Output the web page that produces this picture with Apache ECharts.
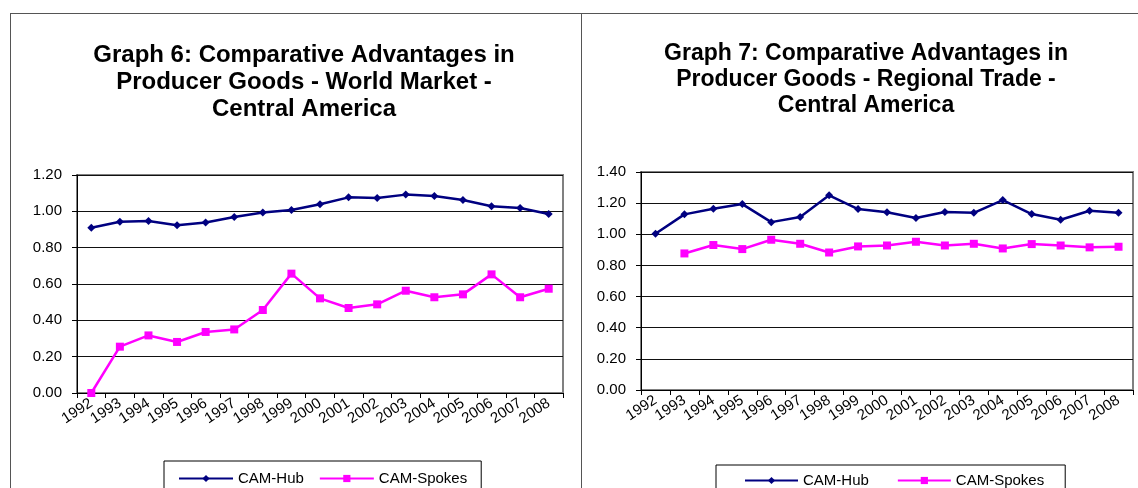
<!DOCTYPE html>
<html>
<head>
<meta charset="utf-8">
<script src="https://cdn.jsdelivr.net/npm/echarts@6/dist/echarts.min.js"></script>
<style>
  html, body { margin: 0; padding: 0; background: #fff; }
  #frame { position: absolute; left: 10px; top: 13px; width: 1300px; height: 600px; border-top: 1px solid #555; border-left: 1px solid #555; }
  #divider { position: absolute; left: 581px; top: 13px; width: 0; height: 600px; border-left: 1px solid #555; }
  #main { position: absolute; left: 0; top: 0; width: 1138px; height: 488px; }
</style>
</head>
<body>
<div id="frame"></div>
<div id="divider"></div>
<div id="main"></div>
<script>
const years = ['1992','1993','1994','1995','1996','1997','1998','1999','2000','2001','2002','2003','2004','2005','2006','2007','2008'];
const seriesNames = ['CAM-Hub', 'CAM-Spokes'];
const title6 = 'Graph 6: Comparative Advantages in\nProducer Goods - World Market -\nCentral America';
const title7 = 'Graph 7: Comparative Advantages in\nProducer Goods - Regional Trade -\nCentral America';
const worldHub = [0.91, 0.943, 0.947, 0.923, 0.938, 0.969, 0.994, 1.007, 1.039, 1.077, 1.073, 1.092, 1.084, 1.062, 1.028, 1.018, 0.985];
const worldSpokes = [0.0, 0.255, 0.317, 0.281, 0.336, 0.350, 0.457, 0.657, 0.521, 0.468, 0.488, 0.563, 0.527, 0.543, 0.653, 0.527, 0.574];
const regionalHub = [1.003, 1.128, 1.164, 1.194, 1.078, 1.111, 1.25, 1.162, 1.141, 1.104, 1.143, 1.138, 1.22, 1.13, 1.093, 1.151, 1.138];
const regionalSpokes = [null, 0.877, 0.931, 0.905, 0.965, 0.939, 0.883, 0.922, 0.928, 0.952, 0.928, 0.939, 0.909, 0.937, 0.928, 0.916, 0.920];
const worldMax = 1.2;
const regionalMax = 1.4;
const yStep = 0.2;

const FONT = 'Arial, "Liberation Sans", sans-serif';
const hubColor = '#000080';
const spokesColor = '#FF00FF';

const chart = echarts.init(document.getElementById('main'), null, { renderer: 'canvas' });

function xAxis(gi) {
  return {
    type: 'category', gridIndex: gi, data: years, boundaryGap: true,
    axisLine: { lineStyle: { color: '#000', width: 1 } },
    axisTick: { show: true, interval: 0, length: 5, lineStyle: { color: '#000' } },
    axisLabel: { interval: 0, rotate: 33, fontFamily: FONT, fontSize: 15, color: '#000', margin: 9 },
    splitLine: { show: false }
  };
}
function yAxis(gi, max) {
  return {
    type: 'value', gridIndex: gi, min: 0, max: max, interval: yStep,
    axisLine: { show: true, lineStyle: { color: '#000', width: 1 } },
    axisTick: { show: true, length: 5, lineStyle: { color: '#000' } },
    axisLabel: { fontFamily: FONT, fontSize: 15, color: '#000', margin: 15, formatter: v => v.toFixed(2) },
    splitLine: { show: true, lineStyle: { color: '#111', width: 1 } }
  };
}
function line(name, gi, data, color, symbol, size) {
  return {
    name: name, type: 'line', xAxisIndex: gi, yAxisIndex: gi, data: data,
    color: color, symbol: symbol, symbolSize: size, showSymbol: true,
    lineStyle: { color: color, width: 2.5 }, itemStyle: { color: color },
    connectNulls: false, animation: false
  };
}

chart.setOption({
  animation: false,
  backgroundColor: 'transparent',
  title: [
    { text: title6, left: 299, top: 37, textAlign: 'center',
      textStyle: { fontFamily: FONT, fontSize: 24, fontWeight: 'bold', color: '#000', lineHeight: 27 } },
    { text: title7, left: 861, top: 36, textAlign: 'center',
      textStyle: { fontFamily: FONT, fontSize: 23, fontWeight: 'bold', color: '#000', lineHeight: 26 } }
  ],
  legend: [
    { data: seriesNames.map(n => ({ name: n })), left: 164, top: 461, orient: 'horizontal',
      padding: [10, 14, 10, 14], itemGap: 15, itemWidth: 54, itemHeight: 9,
      borderColor: '#000', borderWidth: 1,
      textStyle: { fontFamily: FONT, fontSize: 15, color: '#000' } },
    { data: seriesNames.map(n => ({ name: n })), left: 716, top: 465, orient: 'horizontal',
      padding: [8, 21, 10, 28], itemGap: 28, itemWidth: 53, itemHeight: 9,
      borderColor: '#000', borderWidth: 1,
      textStyle: { fontFamily: FONT, fontSize: 15, color: '#000' } }
  ],
  grid: [
    { left: 77, top: 175, width: 486, height: 218, show: true, borderColor: '#808080', borderWidth: 2, backgroundColor: '#fff' },
    { left: 641, top: 172, width: 492, height: 218, show: true, borderColor: '#808080', borderWidth: 2, backgroundColor: '#fff' }
  ],
  xAxis: [xAxis(0), xAxis(1)],
  yAxis: [yAxis(0, worldMax), yAxis(1, regionalMax)],
  series: [
    line(seriesNames[0], 0, worldHub, hubColor, 'diamond', 8),
    line(seriesNames[1], 0, worldSpokes, spokesColor, 'rect', 8),
    line(seriesNames[0], 1, regionalHub, hubColor, 'diamond', 8),
    line(seriesNames[1], 1, regionalSpokes, spokesColor, 'rect', 8)
  ]
});
</script>
</body>
</html>
